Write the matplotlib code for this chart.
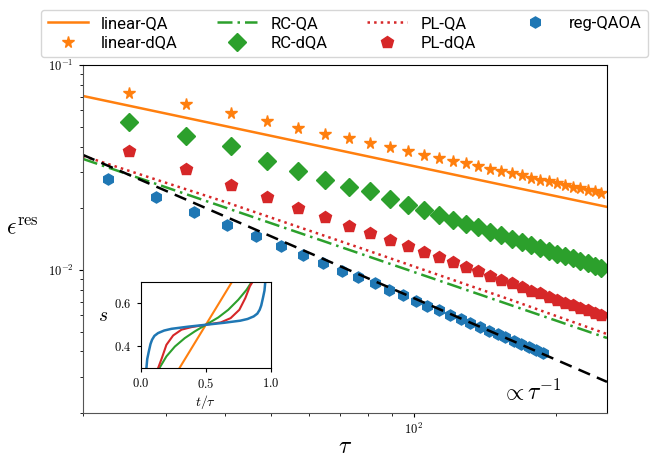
import matplotlib
matplotlib.use('Agg')
import matplotlib.pyplot as plt
from matplotlib.ticker import NullFormatter, FixedLocator

plt.rcParams['mathtext.fontset'] = 'cm'

# 数据 (tau 与残余能量)
tau_dqa = [25, 33, 41, 49, 57, 65, 73, 81, 89, 97, 105, 113, 121, 129, 137,
           145, 153, 161, 169, 177, 185, 193, 201, 209, 217, 225, 233, 241, 249]
linear_dqa = [0.0732, 0.0643, 0.0581, 0.0533, 0.0491, 0.0463, 0.0439, 0.0416, 0.0396,
              0.0380, 0.0365, 0.0353, 0.0341, 0.0331, 0.0321, 0.0312, 0.0304, 0.0296,
              0.0289, 0.0282, 0.0276, 0.0270, 0.0265, 0.0260, 0.0255, 0.0250, 0.0246,
              0.0242, 0.0238]
rc_dqa = [0.0528, 0.0452, 0.0402, 0.0341, 0.0304, 0.0275, 0.0254, 0.0242, 0.0223,
          0.0207, 0.0196, 0.0185, 0.0176, 0.0167, 0.0161, 0.0153, 0.0148, 0.0142,
          0.0137, 0.0132, 0.0128, 0.0124, 0.0120, 0.0117, 0.0114, 0.0111, 0.0108,
          0.0104, 0.0102]
pl_dqa = [0.03815, 0.03095, 0.0260, 0.02275, 0.01996, 0.01804, 0.01636, 0.01508, 0.01398,
          0.01307, 0.01218, 0.01151, 0.01092, 0.01035, 0.00983, 0.00936, 0.00892, 0.00859,
          0.00821, 0.00791, 0.00768, 0.00739, 0.00712, 0.00691, 0.00673, 0.00653, 0.00636,
          0.00617, 0.00602]

tau_qaoa = [22.6, 28.5, 34.4, 40.3, 46.3, 52.5, 58.3, 64.4, 70.4, 76.4, 82.8, 88.6, 94.9,
            101.0, 106.9, 113.1, 119.4, 125.8, 131.6, 138.0, 144.0, 150.4, 156.1, 162.6,
            168.6, 175.0, 181.4, 187.4]
reg_qaoa = [0.02766, 0.02259, 0.01915, 0.01655, 0.01462, 0.01307, 0.01181, 0.01076,
            0.00990, 0.00919, 0.00859, 0.00797, 0.00753, 0.00706, 0.00668, 0.00636,
            0.00605, 0.00577, 0.00551, 0.00527, 0.00503, 0.00486, 0.00468, 0.00450,
            0.00434, 0.00421, 0.00406, 0.00394]

tau_qa = [20, 40, 80, 160, 256]
linear_qa = [0.0706, 0.0503, 0.0358, 0.0255, 0.0203]
rc_qa = [0.0348, 0.02013, 0.01165, 0.00674, 0.00465]
pl_qa = [0.0360, 0.02143, 0.01242, 0.00715, 0.00486]
ref_line = [0.0364, 0.0182, 0.0091, 0.00455, 0.00284]

# 插图: 调度函数 s(t/tau)
t_lin = [0.0, 1.0]
s_lin = [0.0, 1.0]
t_rc = [0.146, 0.197, 0.262, 0.338, 0.415, 0.5, 0.595, 0.672, 0.749, 0.813, 0.851]
s_rc = [0.3, 0.352, 0.398, 0.4375, 0.469, 0.5, 0.534, 0.570, 0.617, 0.664, 0.7]
t_pl = [0.135, 0.162, 0.197, 0.249, 0.313, 0.39, 0.5, 0.615, 0.69, 0.757, 0.803, 0.838, 0.858]
s_pl = [0.3, 0.344, 0.406, 0.45, 0.477, 0.489, 0.5, 0.511, 0.531, 0.570, 0.625, 0.68, 0.7]
t_qaoa = [0.044, 0.05, 0.062, 0.075, 0.087, 0.105, 0.133, 0.18, 0.236, 0.364, 0.5,
          0.636, 0.764, 0.82, 0.867, 0.895, 0.913, 0.925, 0.938, 0.95, 0.956]
s_qaoa = [0.3, 0.34, 0.375, 0.41, 0.43, 0.448, 0.461, 0.473, 0.481, 0.491, 0.5,
          0.509, 0.519, 0.527, 0.539, 0.552, 0.57, 0.59, 0.625, 0.66, 0.7]

c_or = '#ff7f0e'
c_gr = '#2ca02c'
c_rd = '#d62728'
c_bl = '#1f77b4'

fig = plt.figure(figsize=(6.67, 4.61), dpi=100)
ax = fig.add_axes([0.1244, 0.104, 0.7856, 0.755])

ax.plot(tau_qa, linear_qa, color=c_or, lw=1.8, label='linear-QA')
ax.plot(tau_dqa, linear_dqa, '*', color=c_or, ms=8.5, ls='none', label='linear-dQA')
ax.plot(tau_qa, rc_qa, color=c_gr, lw=1.8, ls=(0, (6, 2, 1, 2)), label='RC-QA')
ax.plot(tau_dqa, rc_dqa, 'D', color=c_gr, ms=9, ls='none', label='RC-dQA')
ax.plot(tau_qa, pl_qa, color=c_rd, lw=1.8, ls=':', label='PL-QA')
ax.plot(tau_dqa, pl_dqa, 'p', color=c_rd, ms=9, ls='none', label='PL-dQA')
ax.plot(tau_qaoa, reg_qaoa, 'h', color=c_bl, ms=8, ls='none', label='reg-QAOA')
ax.plot(tau_qa, ref_line, color='k', lw=1.8, ls=(0, (5, 3)))

ax.set_xscale('log')
ax.set_yscale('log')
ax.set_xlim(20, 256)
ax.set_ylim(0.002, 0.1)

ax.xaxis.set_major_locator(FixedLocator([100]))
ax.set_xticklabels([r'$10^{2}$'])
ax.yaxis.set_major_locator(FixedLocator([0.01, 0.1]))
ax.set_yticklabels([r'$10^{-2}$', r'$10^{-1}$'])
ax.xaxis.set_minor_formatter(NullFormatter())
ax.yaxis.set_minor_formatter(NullFormatter())
ax.tick_params(which='major', length=3, width=0.8, labelsize=9, direction='out')
ax.tick_params(which='minor', length=2, width=0.6, direction='out')

ax.spines['left'].set_color('#555555')
ax.spines['bottom'].set_color('#555555')

ax.set_xlabel(r'$\tau$', fontsize=17)
ax.xaxis.set_label_coords(0.5, -0.06)
ax.set_ylabel(r'$\epsilon^{\rm res}$', fontsize=17, rotation=0)
ax.yaxis.set_label_coords(-0.115, 0.5)

ax.text(0.855, 0.06, r'$\propto \tau^{-1}$', transform=ax.transAxes,
        fontsize=17, ha='center', va='center')

# 图例
fig.legend(loc='lower left', bbox_to_anchor=(0.0615, 0.876, 0.91, 0.122),
           mode='expand', ncol=4, borderaxespad=0,
           prop={'family': 'Roboto', 'size': 12}, handlelength=2.4,
           labelspacing=0.25, fancybox=True)

# 插图
ins = fig.add_axes([0.211, 0.2028, 0.1953, 0.1855])
ins.plot(t_lin, s_lin, color=c_or, lw=1.5)
ins.plot(t_rc, s_rc, color=c_gr, lw=1.5)
ins.plot(t_pl, s_pl, color=c_rd, lw=1.5)
ins.plot(t_qaoa, s_qaoa, color=c_bl, lw=1.8)
ins.set_xlim(0, 1)
ins.set_ylim(0.3, 0.7)
ins.set_xticks([0.0, 0.5, 1.0])
ins.set_xticklabels([r'$0.0$', r'$0.5$', r'$1.0$'])
ins.set_yticks([0.4, 0.6])
ins.set_yticklabels([r'$0.4$', r'$0.6$'])
ins.tick_params(labelsize=9, length=3)
ins.set_xlabel(r'$t/\tau$', fontsize=10, labelpad=2)
ins.set_ylabel(r'$s$', fontsize=14, rotation=0, labelpad=8)

plt.savefig('out.png', dpi=100)
